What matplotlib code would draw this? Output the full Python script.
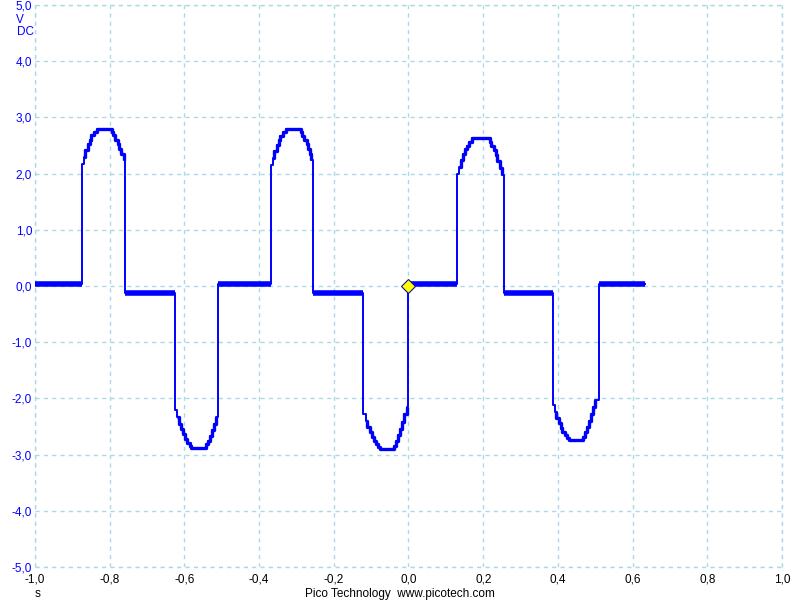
import numpy as np
import matplotlib.pyplot as plt

plt.rcParams["font.family"] = ["Liberation Sans", "DejaVu Sans"]

# flat parts of the trace (start s, end s, level V)
flat_start = [-1.0, -0.758, -0.509, -0.257, 0.0, 0.257, 0.509]
flat_end = [-0.875, -0.624, -0.369, -0.123, 0.131, 0.386, 0.632]
flat_level = [0.04, -0.13, 0.04, -0.13, 0.04, -0.13, 0.04]

# humps and dips
hump1_t = [-0.875, -0.870, -0.865, -0.859, -0.854, -0.849, -0.843, -0.835, -0.801,
           -0.795, -0.790, -0.785, -0.779, -0.774, -0.769, -0.763, -0.758]
hump1_v = [2.17, 2.30, 2.42, 2.52, 2.60, 2.68, 2.74, 2.80, 2.80,
           2.74, 2.68, 2.60, 2.52, 2.44, 2.35, 2.25, 2.15]

dip1_t = [-0.624, -0.619, -0.614, -0.609, -0.603, -0.598, -0.592, -0.586, -0.581,
          -0.549, -0.543, -0.538, -0.532, -0.527, -0.522, -0.516, -0.509]
dip1_v = [-2.20, -2.33, -2.45, -2.55, -2.64, -2.72, -2.79, -2.84, -2.88,
          -2.88, -2.82, -2.75, -2.67, -2.57, -2.46, -2.33, -2.20]

hump2_t = [-0.369, -0.364, -0.359, -0.353, -0.348, -0.343, -0.337, -0.329, -0.295,
           -0.289, -0.284, -0.279, -0.273, -0.268, -0.263, -0.260, -0.257]
hump2_v = [2.15, 2.28, 2.40, 2.51, 2.60, 2.67, 2.74, 2.80, 2.80,
           2.74, 2.67, 2.60, 2.52, 2.43, 2.34, 2.24, 2.15]

dip2_t = [-0.123, -0.115, -0.110, -0.104, -0.099, -0.093, -0.087, -0.081, -0.075,
          -0.045, -0.040, -0.034, -0.029, -0.024, -0.018, -0.012, -0.005, 0.0]
dip2_v = [-2.28, -2.40, -2.51, -2.60, -2.68, -2.76, -2.82, -2.86, -2.90,
          -2.90, -2.84, -2.76, -2.66, -2.55, -2.42, -2.28, -2.15, -2.06]

hump3_t = [0.131, 0.136, 0.141, 0.147, 0.152, 0.157, 0.163, 0.171, 0.212,
           0.217, 0.222, 0.228, 0.233, 0.238, 0.244, 0.250, 0.257]
hump3_v = [2.00, 2.12, 2.24, 2.34, 2.43, 2.50, 2.57, 2.63, 2.63,
           2.57, 2.50, 2.42, 2.33, 2.22, 2.10, 1.98, 1.85]

dip3_t = [0.386, 0.391, 0.396, 0.402, 0.407, 0.412, 0.418, 0.425, 0.431,
          0.461, 0.466, 0.472, 0.477, 0.482, 0.488, 0.494, 0.500, 0.509]
dip3_v = [-2.12, -2.24, -2.35, -2.44, -2.52, -2.59, -2.65, -2.70, -2.74,
          -2.74, -2.68, -2.60, -2.50, -2.40, -2.28, -2.15, -2.02, -1.90]

x_ticks = [-1.0, -0.8, -0.6, -0.4, -0.2, 0.0, 0.2, 0.4, 0.6, 0.8, 1.0]
y_ticks = [-5.0, -4.0, -3.0, -2.0, -1.0, 0.0, 1.0, 2.0, 3.0, 4.0, 5.0]

trigger_t, trigger_v = 0.0, 0.0

TRACE = "#0000ff"
GRID = "#add8e6"
FS = 8.5

fig = plt.figure(figsize=(8, 6), dpi=100)
ax = fig.add_axes([35 / 800, 1 - 567 / 600, 747 / 800, 562 / 600])

# assemble whole trace in time order
shapes = [(hump1_t, hump1_v), (dip1_t, dip1_v), (hump2_t, hump2_v),
          (dip2_t, dip2_v), (hump3_t, hump3_v), (dip3_t, dip3_v)]
t_all, v_all = [], []
for i in range(len(flat_start)):
    t_all += [flat_start[i], flat_end[i]]
    v_all += [flat_level[i], flat_level[i]]
    if i < len(shapes):
        t_all += shapes[i][0]
        v_all += shapes[i][1]

ax.plot(t_all, v_all, color=TRACE, lw=1.4, drawstyle="steps-post", zorder=3)
for st, sv in shapes:
    ax.plot(st[1:-1], sv[1:-1], color=TRACE, lw=2.4, drawstyle="steps-post",
            solid_capstyle="butt", zorder=3)
ax.hlines(flat_level, flat_start, flat_end, color=TRACE, lw=4.0, zorder=3)

ax.plot([trigger_t], [trigger_v], marker="D", ms=7, mfc="#ffff00",
        mec="#1010a0", mew=0.8, zorder=5, clip_on=False)

ax.set_xlim(-1.0, 1.0)
ax.set_ylim(-5.0, 5.0)
ax.set_xticks(x_ticks)
ax.set_yticks(y_ticks)
ax.set_xticklabels([f"{v:.1f}".replace(".", ",") for v in x_ticks])
ax.set_yticklabels([f"{v:.1f}".replace(".", ",") for v in y_ticks])
ax.tick_params(length=0, labelsize=FS)
ax.tick_params(axis="y", colors="#0000ff", pad=2)
ax.tick_params(axis="x", colors="black", pad=5)

for s in ax.spines.values():
    s.set_visible(False)
ax.grid(True, color=GRID, ls=(0, (3, 3)), lw=1.0)
for v in (x_ticks[0], x_ticks[-1]):
    ax.axvline(v, color=GRID, ls=(0, (3, 3)), lw=1.0, clip_on=False)
for v in (y_ticks[0], y_ticks[-1]):
    ax.axhline(v, color=GRID, ls=(0, (3, 3)), lw=1.0, clip_on=False)

fig.text(20 / 800, 1 - 20 / 600, "V", color="#0000ff", fontsize=FS,
         ha="center", va="center")
fig.text(25 / 800, 1 - 32 / 600, "DC", color="#0000ff", fontsize=FS,
         ha="center", va="center")
fig.text(38 / 800, 1 - 594 / 600, "s", color="black", fontsize=FS,
         ha="center", va="center")
fig.text(400 / 800, 1 - 594 / 600, "Pico Technology  www.picotech.com",
         color="black", fontsize=FS, ha="center", va="center")

fig.savefig("out.png", dpi=100)
